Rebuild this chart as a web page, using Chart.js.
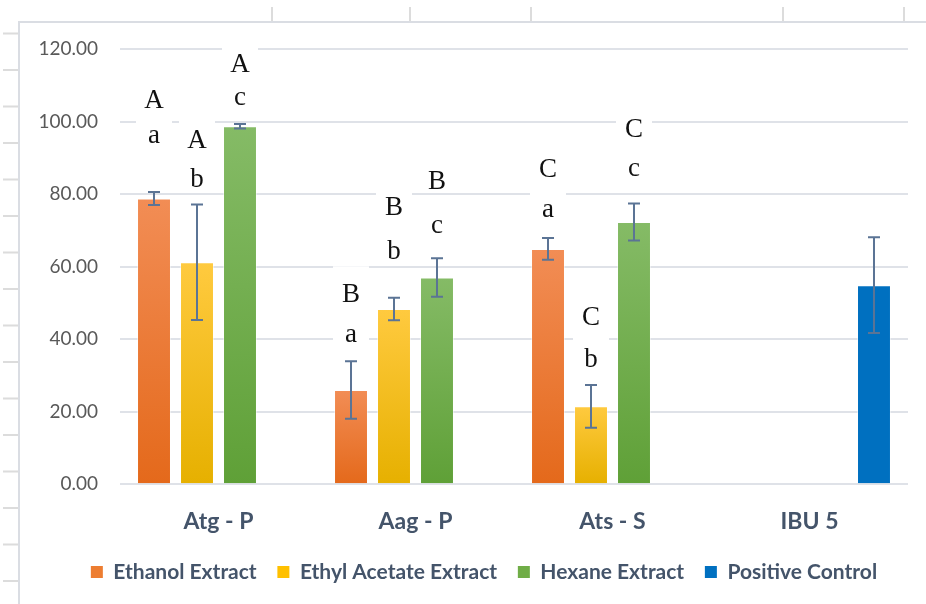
<!DOCTYPE html>
<html>
<head>
<meta charset="utf-8">
<script src="https://cdn.jsdelivr.net/npm/chart.js@4.4.1/dist/chart.umd.min.js"></script>
<style>
  html, body { margin: 0; padding: 0; background: #ffffff; }
  #wrap { position: relative; width: 926px; height: 604px; }
</style>
</head>
<body>
<div id="wrap"><canvas id="chart" width="926" height="604"></canvas></div>
<script>
// ---- data ----
const categories = ['Atg - P', 'Aag - P', 'Ats - S', 'IBU 5'];
const seriesNames = ['Ethanol Extract', 'Ethyl Acetate Extract', 'Hexane Extract', 'Positive Control'];

const ethanol         = [78.8, 26.0, 64.9, null];
const ethylAcetate    = [61.2, 48.3, 21.5, null];
const hexane          = [98.7, 57.0, 72.3, null];
const positiveControl = [null, null, null, 54.9];

const ethanolErr         = [1.8, 7.9, 3.0, null];
const ethylAcetateErr    = [15.9, 3.1, 5.9, null];
const hexaneErr          = [0.6, 5.3, 5.1, null];
const positiveControlErr = [null, null, null, 13.2];

// significance letters: upper case per sample, lower case per extract
const sampleLetters  = ['A', 'B', 'C', ''];
const extractLetters = ['a', 'b', 'c', ''];

const yTicks = [0, 20, 40, 60, 80, 100, 120];

// ---- styling ----
const palette = [
  { solid: '#ED7D31', top: '#F28D55', bottom: '#E4691B' },
  { solid: '#FFC000', top: '#FFCA3F', bottom: '#E6B000' },
  { solid: '#70AD47', top: '#85BB66', bottom: '#5FA037' },
  { solid: '#0070C0', top: '#0070C0', bottom: '#0070C0' }
];

function gradientFill(idx) {
  return (c) => {
    const p = palette[idx];
    const chart = c.chart;
    const ys = chart.scales && chart.scales.y;
    if (c.type !== 'data' || c.raw == null || !ys || !chart.chartArea) return p.solid;
    const t = ys.getPixelForValue(c.raw);
    const b = ys.getPixelForValue(0);
    if (!isFinite(t) || !isFinite(b) || b - t < 1) return p.solid;
    const g = chart.ctx.createLinearGradient(0, t, 0, b);
    g.addColorStop(0, p.top);
    g.addColorStop(1, p.bottom);
    return g;
  };
}

function makeDataset(i, values, errors) {
  return {
    label: seriesNames[i],
    data: values,
    errors: errors,
    backgroundColor: gradientFill(i),
    borderColor: 'rgba(255,255,255,0.45)',
    borderWidth: 1,
    legendColor: palette[i].solid,
    categoryPercentage: 0.873,
    barPercentage: 0.79
  };
}

// error bars drawn over each bar: value ± error
const errorBars = {
  id: 'errorBars',
  afterDatasetsDraw(chart, args, opts) {
    const ctx = chart.ctx;
    const ys = chart.scales.y;
    chart.data.datasets.forEach((ds, di) => {
      const meta = chart.getDatasetMeta(di);
      meta.data.forEach((bar, i) => {
        const v = ds.data[i], e = ds.errors[i];
        if (v == null || e == null) return;
        const x = bar.x;
        const hi = ys.getPixelForValue(v + e);
        const lo = ys.getPixelForValue(v - e);
        ctx.save();
        ctx.strokeStyle = opts.color;
        ctx.lineWidth = opts.width;
        ctx.beginPath();
        ctx.moveTo(x, hi); ctx.lineTo(x, lo);
        ctx.moveTo(x - opts.cap, hi); ctx.lineTo(x + opts.cap, hi);
        ctx.moveTo(x - opts.cap, lo); ctx.lineTo(x + opts.cap, lo);
        ctx.stroke();
        ctx.restore();
      });
    });
  }
};

// letters above the extract bars, each on its own white label box
const letterLabels = {
  id: 'letterLabels',
  afterDatasetsDraw(chart, args, opts) {
    const ctx = chart.ctx;
    const ys = chart.scales.y;
    ctx.save();
    ctx.font = opts.font;
    ctx.textAlign = 'center';
    ctx.textBaseline = 'alphabetic';
    const drawLetter = (txt, x, base) => {
      if (!txt) return;
      ctx.fillStyle = '#ffffff';
      ctx.fillRect(x - opts.boxW / 2, base - opts.boxUp, opts.boxW, opts.boxUp + opts.boxDown);
      ctx.fillStyle = opts.color;
      ctx.fillText(txt, x, base);
    };
    [0, 1, 2].forEach((di) => {
      const ds = chart.data.datasets[di];
      const meta = chart.getDatasetMeta(di);
      meta.data.forEach((bar, i) => {
        const v = ds.data[i];
        if (v == null) return;
        const top = ys.getPixelForValue(v);
        drawLetter(extractLetters[di], bar.x, top - opts.lowerLift[di][i]);
        drawLetter(sampleLetters[i], bar.x, top - opts.upperLift[di][i]);
      });
    });
    ctx.restore();
  }
};

// worksheet cell borders around the chart object
const sheetFrame = {
  id: 'sheetFrame',
  beforeDraw(chart) {
    const ctx = chart.ctx;
    ctx.save();
    ctx.strokeStyle = '#DADDE3';
    ctx.lineWidth = 2;
    ctx.beginPath();
    ctx.moveTo(19, 604); ctx.lineTo(19, 22); ctx.lineTo(926, 22);
    ctx.stroke();
    ctx.strokeStyle = '#DCDCDC';
    ctx.beginPath();
    [272, 410, 531, 783, 904].forEach((x) => { ctx.moveTo(x, 7); ctx.lineTo(x, 21); });
    for (let y = 33.5; y < 604; y += 36.5) { ctx.moveTo(3, y); ctx.lineTo(18, y); }
    ctx.stroke();
    ctx.restore();
  }
};

// centre the legend row under the plot rather than under the whole canvas
const legendShift = {
  id: 'legendShift',
  afterLayout(chart, args, opts) {
    const lg = chart.legend;
    if (!lg) return;
    lg.left += opts.dx;
    lg.right += opts.dx;
  }
};

new Chart(document.getElementById('chart'), {
  type: 'bar',
  data: {
    labels: categories,
    datasets: [
      makeDataset(0, ethanol, ethanolErr),
      makeDataset(1, ethylAcetate, ethylAcetateErr),
      makeDataset(2, hexane, hexaneErr),
      makeDataset(3, positiveControl, positiveControlErr)
    ]
  },
  options: {
    responsive: false,
    animation: false,
    events: [],
    layout: { padding: { left: 30, right: 18, top: 49, bottom: 11.5 } },
    scales: {
      x: {
        grid: { display: false, drawTicks: false },
        border: { display: false },
        ticks: {
          color: '#44546A',
          font: { family: 'Lato', size: 23, weight: 'bold' },
          padding: 23,
          maxRotation: 0
        },
        afterFit(s) { s.height = 56.5; }
      },
      y: {
        min: 0,
        max: 120,
        afterBuildTicks(s) { s.ticks = yTicks.map((v) => ({ value: v })); },
        grid: { color: '#DFE2E8', lineWidth: 2, drawTicks: false },
        border: { display: false },
        ticks: {
          color: '#595959',
          font: { family: 'Lato', size: 19 },
          padding: 22,
          callback: (v) => Number(v).toFixed(2)
        },
        afterFit(s) { s.width = 90; }
      }
    },
    plugins: {
      legend: {
        position: 'bottom',
        labels: {
          color: '#44546A',
          font: { family: 'Lato', size: 21, weight: 'bold' },
          boxWidth: 12,
          boxHeight: 12,
          padding: 20.7,
          generateLabels(chart) {
            return chart.data.datasets.map((ds, i) => ({
              text: ds.label,
              fillStyle: ds.legendColor,
              strokeStyle: ds.legendColor,
              lineWidth: 0,
              hidden: false,
              datasetIndex: i,
              fontColor: '#44546A'
            }));
          }
        }
      },
      tooltip: { enabled: false },
      legendShift: { dx: 15 },
      errorBars: { color: '#5B7495', width: 2, cap: 6 },
      letterLabels: {
        font: '27px "Liberation Serif", "Times New Roman", serif',
        color: '#111111',
        boxW: 36,
        boxUp: 36,
        boxDown: 4,
        lowerLift: [[55.3, 48, 32.3], [75.5, 49.8, 38.9], [21.7, 44.3, 45.7]],
        upperLift: [[90.5, 87.7, 72], [114, 93.6, 81], [54.7, 89, 85.4]]
      }
    }
  },
  plugins: [sheetFrame, legendShift, errorBars, letterLabels]
});
</script>
</body>
</html>
